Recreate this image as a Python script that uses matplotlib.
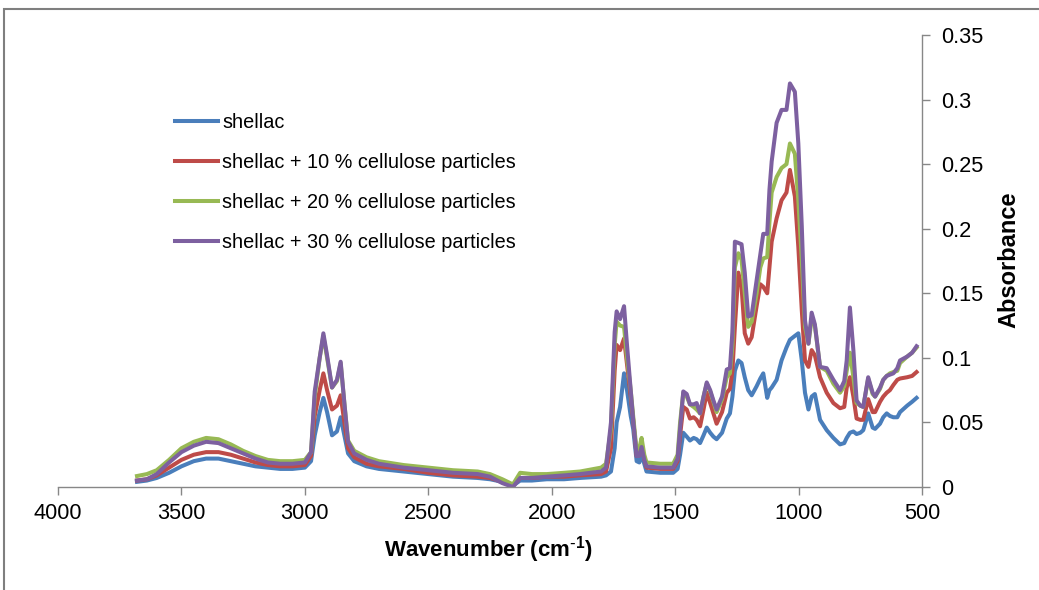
import matplotlib
matplotlib.use("Agg")
import matplotlib.pyplot as plt
from matplotlib.patches import Rectangle

plt.rcParams['font.family'] = ['Liberation Sans', 'DejaVu Sans']
plt.rcParams['mathtext.default'] = 'regular'

# FTIR spectra (wavenumber in cm-1, absorbance)
wavenumber = [
    3680, 3640, 3600, 3550, 3500, 3450, 3400, 3350, 3300, 3250, 3200, 3150, 3100, 3050,
    3000, 2975, 2960, 2940, 2925, 2910, 2890, 2870, 2855, 2840, 2825, 2800, 2750, 2700,
    2600, 2500, 2400, 2300, 2250, 2200, 2157, 2128, 2080, 2020, 1950, 1885, 1800, 1780,
    1760, 1745, 1737, 1723, 1707, 1695, 1680, 1670, 1656, 1645, 1636, 1625, 1616, 1560,
    1508, 1490, 1480, 1467, 1453, 1440, 1425, 1413, 1399, 1385, 1372, 1358, 1345, 1332,
    1310, 1291, 1278, 1268, 1258, 1244, 1231, 1218, 1204, 1190, 1170, 1155, 1143, 1127,
    1118, 1109, 1089, 1069, 1049, 1035, 1015, 1001, 987, 974, 960, 947, 934, 913,
    886, 859, 832, 815, 805, 792, 778, 765, 750, 738, 718, 700, 690, 670,
    657, 643, 630, 616, 600, 589, 560, 540, 522,
]

shellac = [
    0.004, 0.005, 0.007, 0.011, 0.016, 0.020, 0.022, 0.022, 0.020, 0.018, 0.016, 0.015, 0.014, 0.014,
    0.015, 0.020, 0.040, 0.058, 0.069, 0.058, 0.040, 0.043, 0.054, 0.040, 0.026, 0.020, 0.016, 0.014,
    0.012, 0.010, 0.008, 0.007, 0.006, 0.004, 0.001, 0.005, 0.005, 0.006, 0.006, 0.007, 0.008, 0.009,
    0.012, 0.030, 0.050, 0.062, 0.088, 0.075, 0.055, 0.045, 0.020, 0.019, 0.025, 0.018, 0.012, 0.011,
    0.011, 0.014, 0.025, 0.042, 0.039, 0.036, 0.038, 0.037, 0.034, 0.040, 0.046, 0.042, 0.039, 0.037,
    0.042, 0.053, 0.057, 0.070, 0.090, 0.098, 0.096, 0.085, 0.075, 0.071, 0.078, 0.084, 0.088, 0.069,
    0.075, 0.077, 0.083, 0.098, 0.108, 0.114, 0.117, 0.119, 0.098, 0.073, 0.060, 0.070, 0.072, 0.052,
    0.044, 0.038, 0.033, 0.034, 0.038, 0.042, 0.043, 0.041, 0.042, 0.044, 0.057, 0.046, 0.045, 0.049,
    0.054, 0.057, 0.055, 0.054, 0.054, 0.058, 0.063, 0.066, 0.069,
]

cell_10 = [
    0.005, 0.006, 0.009, 0.015, 0.021, 0.025, 0.027, 0.027, 0.025, 0.022, 0.019, 0.017, 0.016, 0.016,
    0.017, 0.024, 0.055, 0.075, 0.088, 0.075, 0.060, 0.063, 0.071, 0.050, 0.030, 0.023, 0.018, 0.016,
    0.014, 0.011, 0.009, 0.008, 0.007, 0.004, 0.001, 0.007, 0.007, 0.008, 0.008, 0.009, 0.010, 0.012,
    0.030, 0.090, 0.110, 0.106, 0.115, 0.095, 0.070, 0.052, 0.024, 0.025, 0.032, 0.022, 0.015, 0.014,
    0.014, 0.020, 0.040, 0.062, 0.060, 0.053, 0.054, 0.052, 0.047, 0.060, 0.073, 0.065, 0.057, 0.049,
    0.058, 0.073, 0.076, 0.090, 0.124, 0.166, 0.155, 0.119, 0.111, 0.116, 0.140, 0.157, 0.155, 0.150,
    0.170, 0.190, 0.208, 0.222, 0.228, 0.2455, 0.225, 0.186, 0.137, 0.098, 0.093, 0.106, 0.102, 0.085,
    0.073, 0.065, 0.061, 0.062, 0.077, 0.085, 0.070, 0.053, 0.052, 0.052, 0.068, 0.058, 0.058, 0.066,
    0.070, 0.073, 0.075, 0.079, 0.083, 0.084, 0.085, 0.086, 0.089,
]

cell_20 = [
    0.0085, 0.010, 0.013, 0.021, 0.030, 0.035, 0.038, 0.037, 0.033, 0.028, 0.024, 0.021, 0.020, 0.020,
    0.021, 0.027, 0.070, 0.100, 0.117, 0.100, 0.077, 0.082, 0.096, 0.065, 0.036, 0.028, 0.023, 0.020,
    0.017, 0.015, 0.013, 0.012, 0.010, 0.006, 0.002, 0.011, 0.010, 0.010, 0.011, 0.012, 0.015, 0.018,
    0.045, 0.110, 0.128, 0.125, 0.124, 0.100, 0.075, 0.055, 0.028, 0.030, 0.038, 0.025, 0.019, 0.018,
    0.018, 0.025, 0.050, 0.073, 0.070, 0.064, 0.062, 0.060, 0.057, 0.070, 0.080, 0.074, 0.066, 0.058,
    0.068, 0.085, 0.088, 0.110, 0.170, 0.181, 0.176, 0.150, 0.124, 0.128, 0.150, 0.170, 0.177, 0.178,
    0.205, 0.228, 0.240, 0.247, 0.250, 0.266, 0.258, 0.222, 0.176, 0.124, 0.111, 0.130, 0.125, 0.093,
    0.090, 0.080, 0.073, 0.078, 0.090, 0.104, 0.085, 0.065, 0.063, 0.062, 0.084, 0.072, 0.070, 0.076,
    0.083, 0.086, 0.088, 0.089, 0.090, 0.096, 0.101, 0.104, 0.108,
]

cell_30 = [
    0.005, 0.006, 0.010, 0.019, 0.027, 0.032, 0.035, 0.034, 0.030, 0.026, 0.022, 0.019, 0.018, 0.018,
    0.019, 0.027, 0.074, 0.100, 0.119, 0.102, 0.077, 0.083, 0.097, 0.065, 0.035, 0.026, 0.021, 0.018,
    0.015, 0.013, 0.011, 0.010, 0.008, 0.003, 0.000, 0.007, 0.007, 0.008, 0.009, 0.010, 0.012, 0.015,
    0.050, 0.120, 0.136, 0.130, 0.140, 0.110, 0.075, 0.052, 0.024, 0.024, 0.031, 0.021, 0.016, 0.015,
    0.015, 0.022, 0.045, 0.074, 0.072, 0.064, 0.064, 0.065, 0.057, 0.070, 0.081, 0.075, 0.067, 0.060,
    0.070, 0.091, 0.092, 0.120, 0.190, 0.189, 0.188, 0.166, 0.132, 0.133, 0.160, 0.180, 0.196, 0.196,
    0.230, 0.252, 0.282, 0.292, 0.292, 0.3125, 0.306, 0.266, 0.202, 0.129, 0.111, 0.135, 0.126, 0.093,
    0.092, 0.083, 0.075, 0.082, 0.098, 0.139, 0.106, 0.067, 0.063, 0.062, 0.085, 0.073, 0.070, 0.077,
    0.083, 0.086, 0.087, 0.088, 0.092, 0.098, 0.101, 0.104, 0.109,
]

labels = [
    "shellac",
    "shellac + 10 % cellulose particles",
    "shellac + 20 % cellulose particles",
    "shellac + 30 % cellulose particles",
]
colors = ["#4a7ebb", "#be4b48", "#98b954", "#7d60a0"]
x_ticks = [4000, 3500, 3000, 2500, 2000, 1500, 1000, 500]
y_ticks = [0, 0.05, 0.1, 0.15, 0.2, 0.25, 0.3, 0.35]

W, H = 1039, 590
fig = plt.figure(figsize=(W / 100, H / 100), dpi=100)
ax = fig.add_axes([58 / W, 1 - 487 / H, (922 - 58) / W, (487 - 35) / H])

for ys, lab, c in zip([shellac, cell_10, cell_20, cell_30], labels, colors):
    ax.plot(wavenumber, ys, color=c, lw=2.9, label=lab, solid_joinstyle='round')

ax.set_xlim(4000, 500)
ax.set_ylim(0, 0.35)
ax.set_xticks(x_ticks)
ax.set_yticks(y_ticks)
ax.set_yticklabels([f"{v:g}" for v in y_ticks])

grey = "#878787"
for side in ("top", "left"):
    ax.spines[side].set_visible(False)
for side in ("bottom", "right"):
    ax.spines[side].set_color(grey)
    ax.spines[side].set_linewidth(1.0)

ax.yaxis.tick_right()
ax.tick_params(axis='both', colors=grey, labelcolor='black', labelsize=15.7,
               direction='out', length=5.5, width=1.0)
ax.tick_params(axis='x', pad=6)
ax.tick_params(axis='y', pad=8)

# \text{-} keeps a plain hyphen in the superscript instead of a math minus
ax.set_xlabel("Wavenumber (cm$^{\\text{-}1}$)", fontsize=16, fontweight='bold')
ax.xaxis.set_label_coords((488 - 58) / 864, (487 - 534) / 452)
ax.yaxis.set_label_position('right')
ax.set_ylabel("Absorbance", fontsize=17, fontweight='bold', rotation=90)
ax.yaxis.set_label_coords((997 - 58) / 864, (487 - 260) / 452)

ax.legend(loc='upper left', bbox_to_anchor=(175 / W, 1 - 113 / H),
          bbox_transform=fig.transFigure, frameon=False, fontsize=14.3,
          handlelength=2.17, handletextpad=0.2, labelspacing=1.05,
          borderpad=0, borderaxespad=0)

# outer frame of the original chart area (only top and left edges are in view)
fig.add_artist(Rectangle((4 / W, -0.1), 2, 1.1 - 8.5 / H, transform=fig.transFigure,
                         fill=False, edgecolor="#7f7f7f", lw=1.5))

fig.savefig("out.png", dpi=100)
